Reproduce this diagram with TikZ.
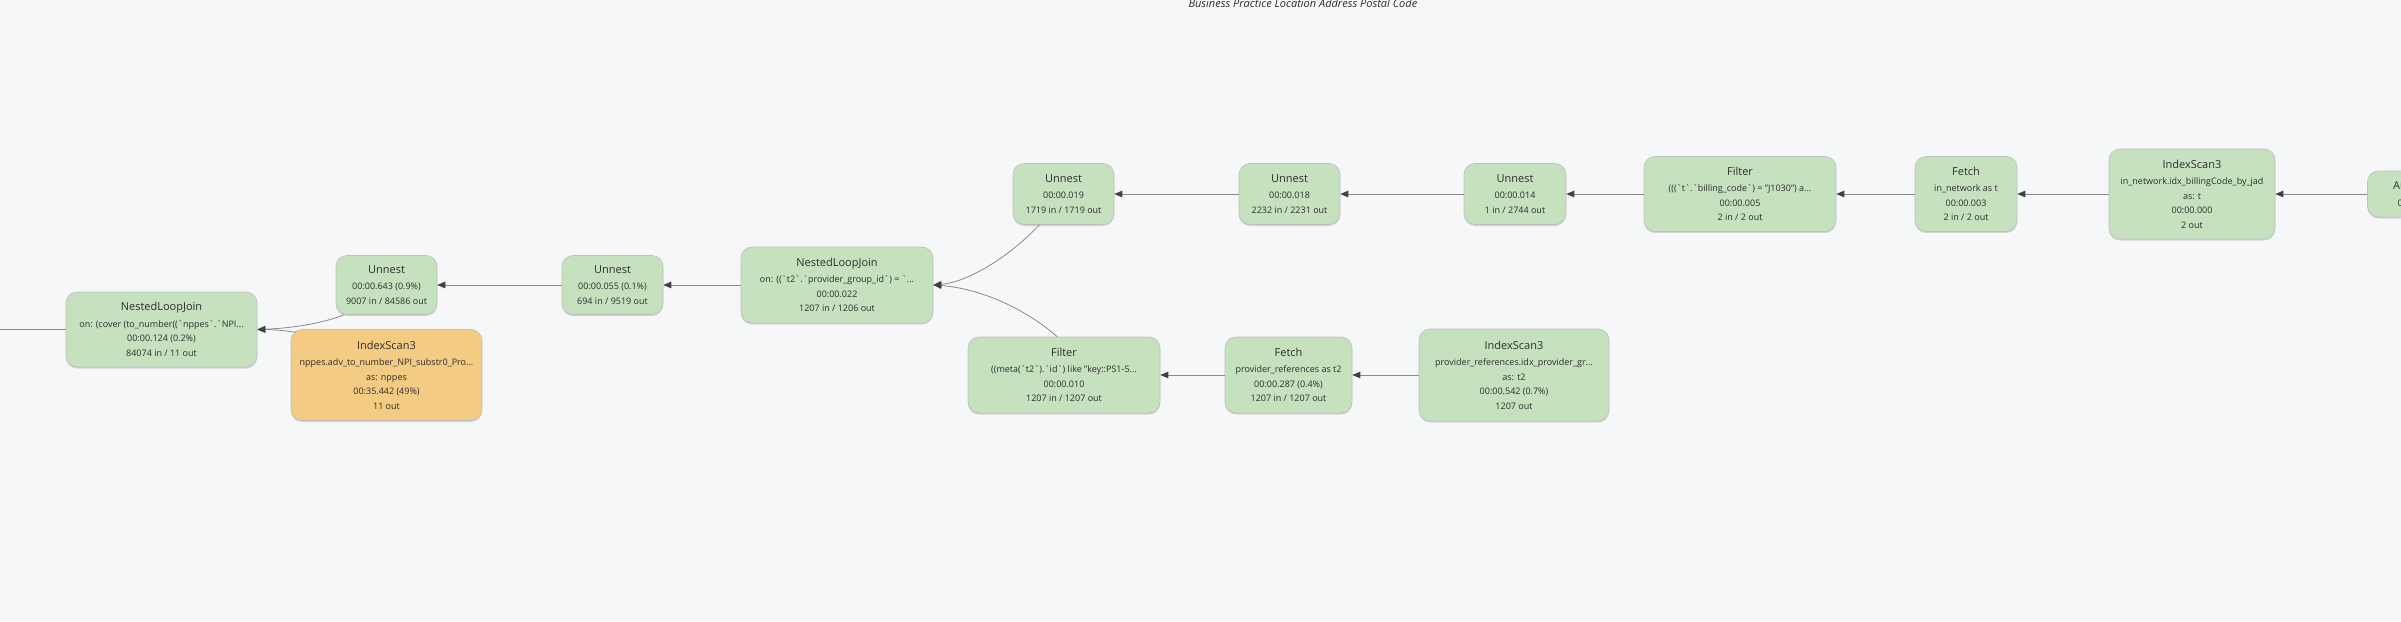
\documentclass[tikz,border=0pt]{standalone}
\usepackage{fontspec}
\setmainfont{Open Sans}
\usetikzlibrary{arrows.meta,shadows}
\definecolor{planbg}{RGB}{246,247,249}
\definecolor{opgreen}{RGB}{197,225,190}
\definecolor{opamber}{RGB}{243,203,130}
\definecolor{opline}{RGB}{138,138,138}
\definecolor{optext}{RGB}{45,45,45}
\newcommand{\bq}{\textasciigrave}
\newcommand{\optitle}[1]{{\fontsize{11}{13}\selectfont #1}\\[2pt]}
\tikzset{
  opbox/.style={draw=black!25, line width=0.6pt, fill=opgreen, rounded corners=11pt,
    align=center, text=optext, inner sep=0pt, font=\fontsize{9}{14.5}\selectfont,
    drop shadow={shadow xshift=0pt, shadow yshift=-1.5pt, opacity=0.3}},
  hotbox/.style={opbox, fill=opamber},
  flow/.style={draw=opline, line width=0.8pt, -{Triangle[length=8pt,width=6.5pt,color=black!75]}}
}

\begin{document}
\begin{tikzpicture}[x=1pt,y=-1pt]
\useasboundingbox (0,0) rectangle (2401,621);
\clip (0,0) rectangle (2401,621);
\fill[planbg] (0,0) rectangle (2401,621);

% Header text, cut at the top
\node[anchor=base west, font=\itshape\fontsize{11}{13}\selectfont, text=optext] (hdr) at (1185,7) {Business Practice Location Address Postal Code};

% Upper branch: in_network
\node[opbox, minimum width=101pt, minimum height=46pt] (auth) at (2418,194) {\optitle{Authorize}00:00.000};
\node[opbox, minimum width=166pt, minimum height=90pt] (scanT) at (2192,194) {\optitle{IndexScan3}in\_network.idx\_billingCode\_by\_jad\\as: t\\00:00.000\\2 out};
\node[opbox, minimum width=102pt, minimum height=75pt] (fetch1) at (1966,194) {\optitle{Fetch}in\_network as t\\00:00.003\\2 in / 2 out};
\node[opbox, minimum width=192pt, minimum height=75pt] (filt1) at (1740,194) {\optitle{Filter}(((\bq t\bq.\bq billing\_code\bq) = "J1030") a...\\00:00.005\\2 in / 2 out};
\node[opbox, minimum width=102pt, minimum height=61pt] (un5) at (1515,194) {\optitle{Unnest}00:00.014\\1 in / 2744 out};
\node[opbox, minimum width=101pt, minimum height=61pt] (un4) at (1289.5,194) {\optitle{Unnest}00:00.018\\2232 in / 2231 out};
\node[opbox, minimum width=101pt, minimum height=61pt] (un3) at (1063.5,194) {\optitle{Unnest}00:00.019\\1719 in / 1719 out};

% Lower branch: provider_references
\node[opbox, minimum width=190pt, minimum height=92pt] (scanP) at (1514,375) {\optitle{IndexScan3}provider\_references.idx\_provider\_gr...\\as: t2\\00:00.542 (0.7\%)\\1207 out};
\node[opbox, minimum width=127pt, minimum height=76pt] (fetch2) at (1288.5,375) {\optitle{Fetch}provider\_references as t2\\00:00.287 (0.4\%)\\1207 in / 1207 out};
\node[opbox, minimum width=192pt, minimum height=76pt] (filt2) at (1064,375) {\optitle{Filter}((meta(\bq t2\bq).\bq id\bq) like "key::PS1-5...\\00:00.010\\1207 in / 1207 out};

% Joins and unnests
\node[opbox, minimum width=192pt, minimum height=76pt] (nlj2) at (837,285) {\optitle{NestedLoopJoin}on: ((\bq t2\bq.\bq provider\_group\_id\bq) = \bq...\\00:00.022\\1207 in / 1206 out};
\node[opbox, minimum width=101pt, minimum height=59pt] (un2) at (612.5,285) {\optitle{Unnest}00:00.055 (0.1\%)\\694 in / 9519 out};
\node[opbox, minimum width=101pt, minimum height=59pt] (un1) at (386.5,285) {\optitle{Unnest}00:00.643 (0.9\%)\\9007 in / 84586 out};
\node[hotbox, minimum width=191pt, minimum height=91pt] (scanA) at (386.5,375) {\optitle{IndexScan3}nppes.adv\_to\_number\_NPI\_substr0\_Pro...\\as: nppes\\00:35.442 (49\%)\\11 out};
\node[opbox, minimum width=191pt, minimum height=75pt] (nlj1) at (161.5,329.5) {\optitle{NestedLoopJoin}on: (cover (to\_number((\bq nppes\bq.\bq NPI...\\00:00.124 (0.2\%)\\84074 in / 11 out};
\coordinate (outL) at (-5,329.5);

% Connectors
\draw[flow] (auth.west) -- (scanT.east);
\draw[flow] (scanT.west) -- (fetch1.east);
\draw[flow] (fetch1.west) -- (filt1.east);
\draw[flow] (filt1.west) -- (un5.east);
\draw[flow] (un5.west) -- (un4.east);
\draw[flow] (un4.west) -- (un3.east);
\draw[flow] (un3.232) .. controls +(-28,30) and +(36,-3) .. (nlj2.east);
\draw[flow] (scanP.west) -- (fetch2.east);
\draw[flow] (fetch2.west) -- (filt2.east);
\draw[flow] (filt2.100) .. controls +(-37,-32) and +(42,3) .. (nlj2.east);
\draw[flow] (nlj2.west) -- (un2.east);
\draw[flow] (un2.west) -- (un1.east);
\draw[flow] (un1.215) .. controls +(-25,10) and +(28,-1) .. (nlj1.east);
\draw[flow] ([xshift=5pt,yshift=-3pt]scanA.north west) .. controls +(-14,-2) and +(14,0) .. (nlj1.east);
\draw[draw=opline, line width=0.8pt] (nlj1.west) -- (outL);
\end{tikzpicture}
\end{document}
